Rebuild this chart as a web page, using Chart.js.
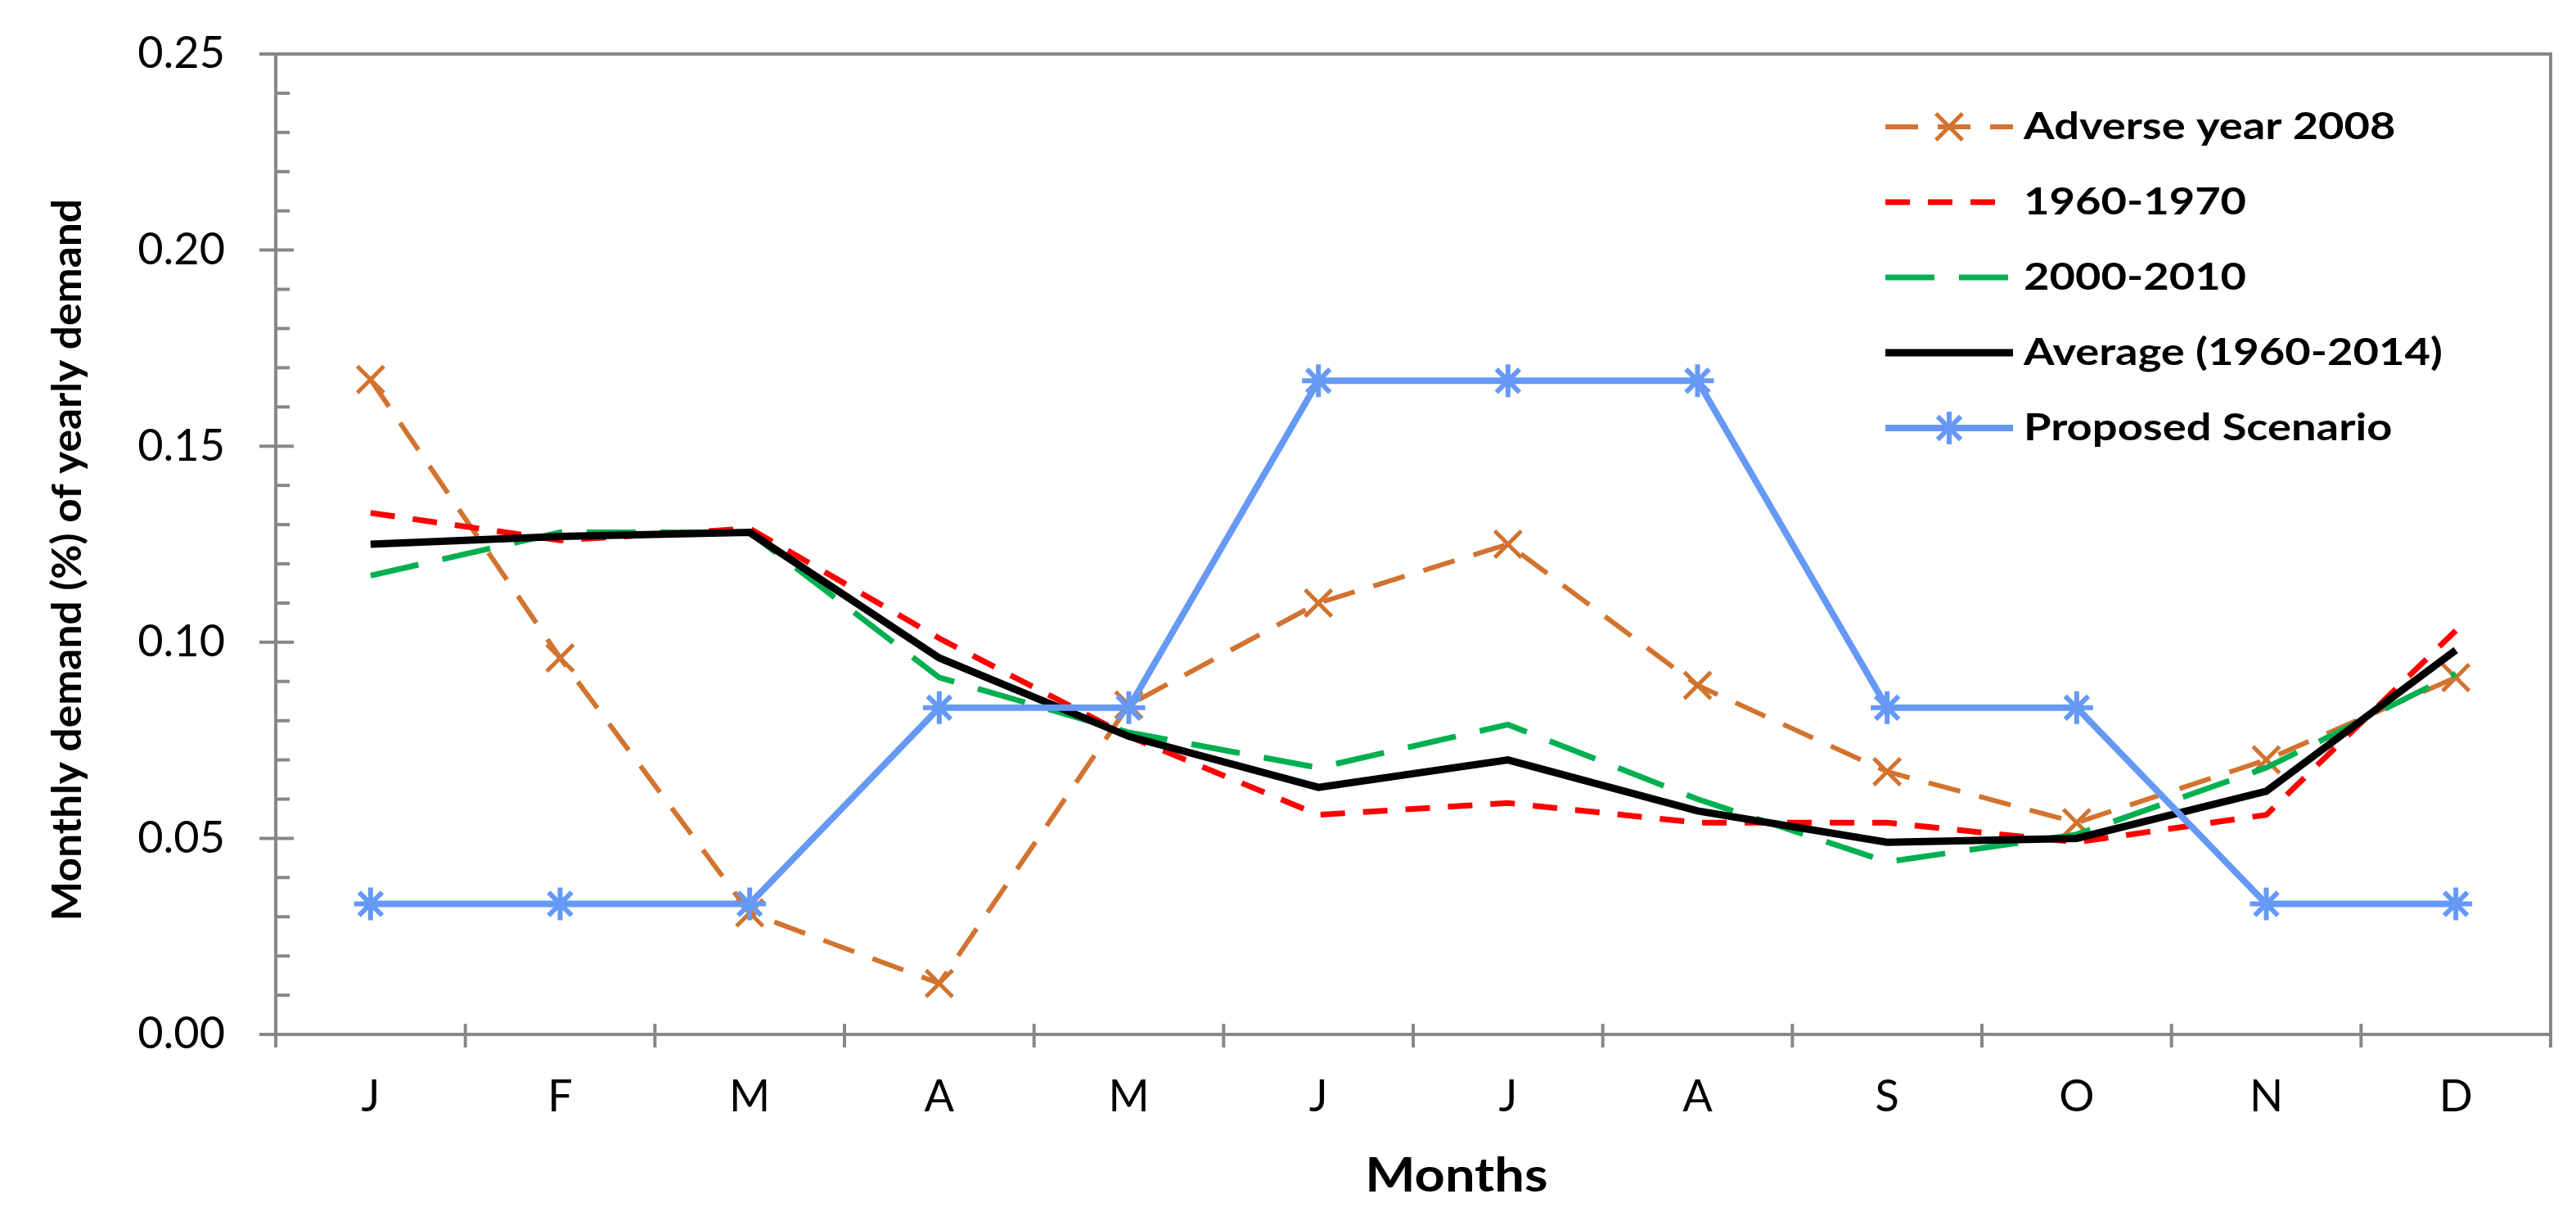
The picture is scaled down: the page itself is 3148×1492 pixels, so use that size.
<!DOCTYPE html>
<html>
<head>
<meta charset="utf-8">
<script src="https://cdn.jsdelivr.net/npm/chart.js@4.4.0/dist/chart.umd.min.js"></script>
<style>
  html, body { margin: 0; padding: 0; background: #fff; }
  #wrap { width: 3148px; height: 1492px; }
</style>
</head>
<body>
<div id="wrap"><canvas id="demandChart"></canvas></div>
<script>
// month initials on the x axis
const months = ["J", "F", "M", "A", "M", "J", "J", "A", "S", "O", "N", "D"];

// monthly demand as a share of yearly demand
const adverse2008 = [0.167, 0.096, 0.031, 0.013, 0.084, 0.110, 0.125, 0.089, 0.067, 0.054, 0.070, 0.091];
const period1960 = [0.133, 0.126, 0.129, 0.101, 0.076, 0.056, 0.059, 0.054, 0.054, 0.049, 0.056, 0.103];
const period2000 = [0.117, 0.128, 0.128, 0.091, 0.077, 0.068, 0.079, 0.060, 0.044, 0.051, 0.068, 0.092];
const average = [0.125, 0.127, 0.128, 0.096, 0.076, 0.063, 0.070, 0.057, 0.049, 0.050, 0.062, 0.098];
const proposed = [0.0333, 0.0333, 0.0333, 0.0833, 0.0833, 0.1667, 0.1667, 0.1667, 0.0833, 0.0833, 0.0333, 0.0333];

const yTicks = [0, 0.05, 0.10, 0.15, 0.20, 0.25];
const xTitle = "Months";
const yTitle = "Monthly demand (%) of yearly demand";

const axisGrey = "#878787";
const FONT = "Lato";

// stretched text, the source figure is a bit wider than tall
function wideText(ctx, text, x, y, sx, rot, align) {
  ctx.save();
  ctx.translate(x, y);
  if (rot) ctx.rotate(rot);
  ctx.scale(sx, 1);
  ctx.textAlign = align;
  ctx.textBaseline = "middle";
  ctx.fillText(text, 0, 0);
  ctx.restore();
}

// frame, crossing tick marks and minor ticks, like the spreadsheet axes
const axesPlugin = {
  id: "axesPlugin",
  beforeDatasetsDraw(chart) {
    const ctx = chart.ctx;
    const a = chart.chartArea;
    const y = chart.scales.y;
    const x = chart.scales.x;
    ctx.save();
    ctx.strokeStyle = axisGrey;
    ctx.lineWidth = 4;
    ctx.strokeRect(a.left, a.top, a.right - a.left, a.bottom - a.top);

    // y major + minor ticks
    for (let v = 0; v <= 25; v++) {
      const py = y.getPixelForValue(v / 100);
      ctx.beginPath();
      if (v % 5 === 0) {
        ctx.moveTo(a.left - 20, py);
        ctx.lineTo(a.left + 22, py);
      } else {
        ctx.moveTo(a.left, py);
        ctx.lineTo(a.left + 17, py);
      }
      ctx.stroke();
    }
    // x ticks between the months
    const cw = (x.right - x.left) / months.length;
    for (let i = 0; i <= months.length; i++) {
      const px = x.left + i * cw;
      ctx.beginPath();
      ctx.moveTo(px, a.bottom - 13);
      ctx.lineTo(px, a.bottom + 16);
      ctx.stroke();
    }
    ctx.restore();
  },
  afterDraw(chart) {
    const ctx = chart.ctx;
    const a = chart.chartArea;

    // axis titles
    ctx.save();
    ctx.fillStyle = "#000";
    ctx.font = "bold 58px " + FONT;
    wideText(ctx, xTitle, a.left + (a.right - a.left) * 0.519, 1437, 1.12, 0, "center");
    ctx.font = "bold 50px " + FONT;
    wideText(ctx, yTitle, 83, a.top + (a.bottom - a.top) * 0.516, 1.03, -Math.PI / 2, "center");
    ctx.restore();

    // legend
    const x0 = a.right - 813;
    const len = 156;
    chart.data.datasets.forEach((ds, i) => {
      const yy = a.top + 89 + i * 92;
      ctx.save();
      ctx.strokeStyle = ds.borderColor;
      ctx.lineWidth = ds.borderWidth;
      ctx.setLineDash(ds.borderDash || []);
      ctx.beginPath();
      ctx.moveTo(x0, yy);
      ctx.lineTo(x0 + len, yy);
      ctx.stroke();
      ctx.setLineDash([]);
      if (ds.pointRadius > 0) {
        ctx.lineWidth = ds.pointBorderWidth;
        ctx.fillStyle = ds.borderColor;
        Chart.helpers.drawPoint(ctx, {
          pointStyle: ds.pointStyle,
          radius: ds.pointRadius,
          borderWidth: ds.pointBorderWidth,
          rotation: 0
        }, x0 + len / 2, yy);
      }
      ctx.fillStyle = "#000";
      ctx.font = "bold 46px " + FONT;
      wideText(ctx, ds.label, x0 + len + 13, yy, 1.18, 0, "left");
      ctx.restore();
    });
  }
};

function makeChart() {
  const ctx = document.getElementById("demandChart").getContext("2d");
  new Chart(ctx, {
    type: "line",
    data: {
      labels: months,
      datasets: [
        {
          label: "Adverse year 2008",
          data: adverse2008,
          borderColor: "#D2732F",
          borderWidth: 6,
          borderDash: [40, 24],
          pointStyle: "crossRot",
          pointRadius: 23,
          pointBorderWidth: 5,
          pointBorderColor: "#D2732F",
          order: 4
        },
        {
          label: "1960-1970",
          data: period1960,
          borderColor: "#FF0000",
          borderWidth: 7,
          borderDash: [30, 22],
          pointRadius: 0,
          order: 3
        },
        {
          label: "2000-2010",
          data: period2000,
          borderColor: "#00B050",
          borderWidth: 7,
          borderDash: [60, 30],
          pointRadius: 0,
          order: 2
        },
        {
          label: "Average (1960-2014)",
          data: average,
          borderColor: "#000000",
          borderWidth: 9,
          pointRadius: 0,
          order: 1
        },
        {
          label: "Proposed Scenario",
          data: proposed,
          borderColor: "#6699F5",
          borderWidth: 8,
          pointStyle: "star",
          pointRadius: 20,
          pointBorderWidth: 6,
          pointBorderColor: "#6699F5",
          order: 0
        }
      ]
    },
    options: {
      devicePixelRatio: 1,
      responsive: true,
      maintainAspectRatio: false,
      animation: false,
      layout: { padding: { top: 66, right: 31, left: 0, bottom: 0 } },
      elements: { line: { tension: 0, fill: false } },
      plugins: {
        legend: { display: false },
        tooltip: { enabled: false }
      },
      scales: {
        x: {
          offset: true,
          grid: { display: false, drawTicks: false },
          border: { display: false },
          ticks: {
            color: "#000",
            padding: 44,
            font: { family: FONT, size: 54 }
          },
          afterFit(scale) { scale.height = 228; }
        },
        y: {
          min: 0,
          max: 0.25,
          grid: { display: false, drawTicks: false },
          border: { display: false },
          afterBuildTicks(scale) {
            scale.ticks = yTicks.map(v => ({ value: v }));
          },
          ticks: {
            color: "#000",
            padding: 62,
            font: { family: FONT, size: 54 },
            callback: v => Number(v).toFixed(2)
          },
          afterFit(scale) {
            scale.width = 337;
            // tick padding should not push the plot down
            scale.paddingTop = 0;
            scale.paddingBottom = 0;
          }
        }
      }
    },
    plugins: [axesPlugin]
  });
}

Promise.all([
  document.fonts.load("50px " + FONT),
  document.fonts.load("bold 50px " + FONT)
]).then(makeChart, makeChart);
</script>
</body>
</html>
